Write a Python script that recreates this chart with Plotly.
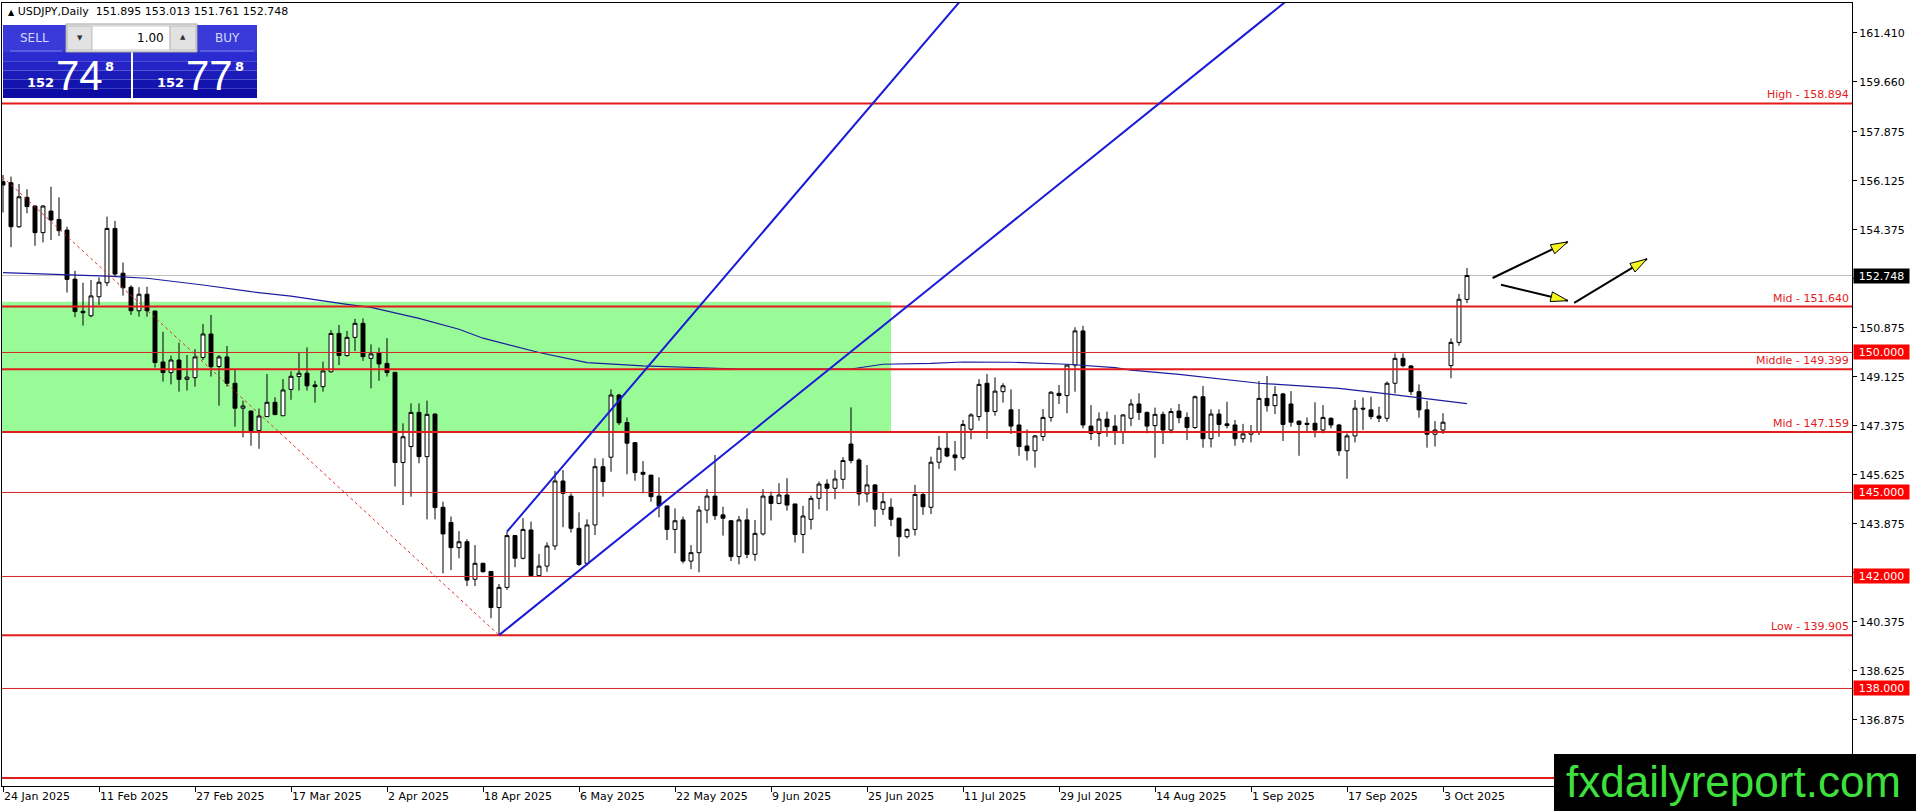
import plotly.graph_objects as go

# ---- daily candles, bar index 0 = 24 Jan 2025 (weekdays only) ----
OPEN = [156.10, 156.06, 154.49, 155.54, 155.23, 154.28, 155.05, 154.75, 154.37, 152.62, 151.47, 151.31,
        151.99, 152.49, 154.43, 152.83, 152.33, 151.49, 152.08, 151.48, 149.66, 149.28, 149.73, 149.04,
        149.10, 149.82, 150.66, 149.50, 149.84, 148.90, 148.01, 147.91, 147.21, 147.71, 148.22, 147.74,
        148.68, 149.14, 149.26, 148.84, 148.78, 149.31, 150.68, 149.89, 150.54, 151.04, 149.79, 149.97,
        149.61, 149.29, 146.07, 146.64, 147.86, 146.28, 147.80, 144.47, 143.93, 143.03, 143.24, 141.90,
        142.47, 142.18, 140.89, 141.61, 143.46, 142.65, 143.66, 142.03, 142.37, 143.09, 145.41, 144.87,
        143.72, 142.47, 143.84, 145.92, 146.26, 148.48, 147.50, 146.78, 145.72, 145.62, 144.87, 144.52,
        143.68, 144.02, 142.55, 142.85, 144.37, 144.87, 144.20, 143.99, 142.71, 144.02, 142.79, 143.52,
        144.87, 144.61, 144.91, 144.59, 143.50, 144.04, 144.79, 145.30, 145.15, 145.47, 146.73, 146.16,
        144.95, 145.27, 144.40, 144.47, 144.08, 143.42, 143.68, 144.93, 144.47, 146.08, 146.58, 146.34,
        146.24, 147.26, 147.71, 148.90, 147.89, 148.60, 147.95, 147.41, 146.66, 146.49, 147.00, 147.68,
        148.54, 148.46, 149.55, 150.77, 147.37, 147.11, 147.62, 147.37, 147.15, 147.65, 148.16, 147.86,
        147.39, 147.79, 147.23, 147.91, 147.68, 147.32, 148.42, 146.92, 147.80, 147.45, 147.41, 146.92,
        147.08, 147.17, 148.36, 148.10, 148.52, 148.16, 147.55, 147.47, 147.47, 147.23, 147.65, 147.41,
        146.49, 147.02, 148.01, 147.95, 147.73, 147.65, 148.90, 149.79, 149.52, 148.60, 147.95, 147.08,
        147.23, 149.53, 150.36, 151.895]
HIGH = [156.34, 156.28, 156.02, 155.83, 155.25, 155.26, 155.92, 155.54, 154.49, 152.92, 152.49, 152.59,
        152.68, 154.85, 154.70, 153.21, 152.40, 152.33, 152.35, 151.49, 150.74, 149.89, 150.35, 149.91,
        150.12, 151.02, 151.34, 149.91, 150.23, 149.40, 148.28, 147.91, 148.00, 149.23, 148.40, 149.05,
        149.33, 149.99, 150.18, 148.99, 149.67, 150.80, 150.98, 150.77, 151.20, 151.22, 150.29, 150.17,
        150.51, 149.29, 147.47, 148.18, 148.18, 148.28, 147.83, 144.67, 144.14, 143.62, 143.33, 143.12,
        142.49, 142.18, 141.73, 143.60, 143.48, 144.08, 143.96, 142.80, 143.22, 145.77, 145.80, 144.97,
        144.29, 144.04, 146.22, 146.22, 148.68, 148.52, 147.68, 146.78, 146.12, 145.62, 145.54, 144.52,
        144.43, 144.14, 143.12, 144.52, 145.12, 146.34, 144.49, 144.02, 144.16, 144.43, 144.02, 145.12,
        145.03, 145.33, 145.51, 144.59, 144.52, 144.89, 145.39, 145.47, 145.80, 146.26, 148.04, 146.22,
        145.98, 145.30, 144.99, 144.79, 144.11, 143.72, 145.27, 144.99, 146.28, 147.02, 147.15, 146.84,
        147.59, 147.83, 149.05, 149.23, 149.11, 148.90, 148.68, 147.98, 147.25, 147.05, 147.98, 148.62,
        148.84, 149.55, 150.90, 150.95, 148.12, 147.86, 147.89, 147.77, 147.79, 148.33, 148.54, 147.89,
        148.03, 147.89, 148.01, 148.16, 147.86, 148.46, 148.80, 147.97, 147.97, 148.24, 147.59, 147.45,
        147.41, 148.98, 149.16, 148.80, 148.56, 148.62, 147.56, 147.68, 148.22, 148.12, 147.68, 147.45,
        147.11, 148.30, 148.39, 148.42, 148.06, 148.96, 149.97, 149.97, 149.55, 148.86, 148.27, 147.55,
        147.83, 150.50, 152.09, 153.013]
LOW = [155.00, 153.76, 154.45, 154.97, 153.81, 153.93, 154.02, 154.16, 152.14, 151.26, 150.96, 151.26,
       151.70, 152.37, 152.73, 152.03, 151.34, 151.28, 151.28, 149.46, 148.96, 148.86, 148.60, 148.64,
       148.78, 149.73, 149.14, 148.10, 148.78, 147.35, 146.97, 146.67, 146.56, 147.71, 147.78, 147.74,
       148.31, 148.64, 148.64, 148.21, 148.60, 149.28, 149.55, 149.85, 150.05, 149.70, 148.72, 148.99,
       149.14, 145.21, 144.55, 144.85, 146.04, 144.04, 144.04, 142.11, 142.23, 142.65, 141.66, 141.66,
       142.14, 140.51, 139.905, 141.52, 142.33, 142.61, 142.00, 141.98, 142.17, 142.95, 143.76, 143.57,
       142.37, 142.40, 143.48, 144.85, 145.74, 147.41, 145.65, 145.42, 144.97, 144.67, 144.11, 143.30,
       142.83, 142.47, 142.26, 142.15, 143.90, 144.02, 143.46, 142.55, 142.43, 142.65, 142.56, 143.46,
       144.00, 144.58, 144.35, 143.21, 142.83, 143.68, 144.40, 144.35, 144.76, 145.13, 146.04, 144.53,
       144.65, 143.78, 144.20, 143.80, 142.71, 143.36, 143.46, 144.20, 144.23, 145.84, 146.26, 145.78,
       146.16, 146.90, 147.56, 146.91, 147.74, 148.21, 147.09, 146.31, 146.14, 145.89, 146.84, 147.53,
       148.16, 147.83, 148.60, 147.29, 146.87, 146.64, 146.99, 146.70, 146.73, 147.37, 147.59, 147.11,
       146.24, 146.73, 147.11, 147.47, 146.87, 147.27, 146.60, 146.61, 146.99, 147.29, 146.67, 146.78,
       146.79, 147.05, 147.89, 147.80, 146.84, 147.35, 146.31, 147.14, 146.97, 147.11, 147.29, 146.31,
       145.49, 146.79, 147.23, 147.61, 147.51, 147.53, 148.54, 149.47, 148.48, 147.67, 146.60, 146.64,
       147.09, 149.08, 150.24, 151.761]
CLOSE = [155.98, 154.49, 155.56, 155.21, 154.28, 155.23, 154.73, 154.35, 152.61, 151.46, 151.42, 152.02,
         152.51, 154.43, 152.80, 152.31, 151.49, 152.08, 151.49, 149.64, 149.28, 149.73, 149.04, 149.12,
         149.84, 150.66, 149.49, 149.84, 148.90, 148.01, 148.09, 147.21, 147.73, 148.22, 147.78, 148.66,
         149.15, 149.26, 148.81, 148.78, 149.34, 150.68, 149.89, 150.54, 151.04, 149.85, 149.95, 149.59,
         149.28, 146.07, 146.99, 147.86, 146.28, 147.79, 144.46, 143.52, 143.03, 143.24, 141.87, 142.47,
         142.17, 140.89, 141.61, 143.46, 142.65, 143.68, 142.03, 142.37, 143.09, 145.41, 144.97, 143.72,
         142.43, 143.84, 145.92, 145.39, 148.48, 147.49, 146.76, 145.71, 145.65, 144.85, 144.52, 143.68,
         143.99, 142.55, 142.85, 144.37, 144.87, 144.17, 144.08, 142.71, 144.02, 142.79, 143.54, 144.87,
         144.61, 144.91, 144.55, 143.50, 144.16, 144.79, 145.30, 145.15, 145.48, 146.14, 146.14, 144.95,
         145.27, 144.40, 144.67, 144.04, 143.42, 143.68, 144.93, 144.49, 146.08, 146.58, 146.30, 146.24,
         147.43, 147.77, 148.86, 147.89, 148.62, 148.81, 147.37, 146.64, 146.49, 147.02, 147.68, 148.58,
         148.46, 149.55, 150.77, 147.41, 147.11, 147.62, 147.35, 147.15, 147.77, 148.16, 147.86, 147.37,
         147.79, 147.23, 147.89, 147.67, 147.32, 148.42, 146.92, 147.80, 147.43, 147.39, 146.92, 147.09,
         147.17, 148.36, 148.10, 148.50, 147.43, 147.51, 147.43, 147.43, 147.23, 147.68, 147.41, 146.49,
         147.02, 148.01, 147.98, 147.71, 147.65, 148.90, 149.79, 149.53, 148.60, 147.95, 147.08, 147.23,
         147.51, 150.36, 151.90, 152.748]

# moving average at a few bars
MA_X = [0, 8, 13, 18, 25, 31, 36, 43, 46, 52, 57, 60, 65, 67, 73, 80, 92, 106, 110, 116, 120, 126,
        133, 139, 141, 147, 157, 167, 173, 178, 183]
MA_Y = [152.85, 152.77, 152.73, 152.65, 152.41, 152.17, 152.01, 151.72, 151.61, 151.22, 150.83, 150.51,
        150.15, 150.00, 149.64, 149.52, 149.41, 149.41, 149.58, 149.61, 149.66, 149.65, 149.58, 149.46,
        149.37, 149.22, 148.90, 148.72, 148.52, 148.34, 148.17]

DATE_TICKS = [0, 12, 24, 36, 48, 60, 72, 84, 96, 108, 120, 132, 144, 156, 168, 180]
DATE_LABELS = ["24 Jan 2025", "11 Feb 2025", "27 Feb 2025", "17 Mar 2025", "2 Apr 2025", "18 Apr 2025",
               "6 May 2025", "22 May 2025", "9 Jun 2025", "25 Jun 2025", "11 Jul 2025", "29 Jul 2025",
               "14 Aug 2025", "1 Sep 2025", "17 Sep 2025", "3 Oct 2025"]
PRICE_TICKS = [136.875, 138.625, 140.375, 142.125, 143.875, 145.625, 147.375, 149.125, 150.875,
               152.625, 154.375, 156.125, 157.875, 159.660, 161.410]

LEVELS = [158.894, 151.640, 149.399, 147.159, 139.905, 134.80]
LEVEL_NAMES = ["High", "Mid", "Middle", "Mid", "Low", ""]
ROUND_LEVELS = [150.0, 145.0, 142.0, 138.0]
LAST_PRICE = 152.748
TITLE_OHLC = [151.895, 153.013, 151.761, 152.748]

ZONE = [-20, 111, 147.159, 151.81]
DASHED = [(-10, 158.894), (62, 139.905)]
CHANNEL_A = [(63, 143.60), (80.25, 149.37)]
CHANNEL_B = [(62, 139.905), (114, 151.87)]
ARROWS = [((186.2, 152.66), (195.6, 153.95)),
          ((187.25, 152.42), (195.6, 151.85)),
          ((196.4, 151.77), (205.5, 153.34))]

# ---- geometry ----
W, H = 1916, 811
ML, MR, MT, MB = 2, 64, 3, 25
PW, PH = W - ML - MR, H - MT - MB
X_RANGE = [-0.125, 231.125]
Y_RANGE = [134.517, 162.481]
FONT = "DejaVu Sans"
RED = "#e31b1b"


def to_px(i, p):
    x = ML + (i - X_RANGE[0]) / (X_RANGE[1] - X_RANGE[0]) * PW
    y = MT + (Y_RANGE[1] - p) / (Y_RANGE[1] - Y_RANGE[0]) * PH
    return x, y


def to_data(x, y):
    i = X_RANGE[0] + (x - ML) / PW * (X_RANGE[1] - X_RANGE[0])
    p = Y_RANGE[1] - (y - MT) / PH * (Y_RANGE[1] - Y_RANGE[0])
    return i, p


def pxx(x):
    return (x - ML) / PW


def pxy(y):
    return 1 - (y - MT) / PH


def ray(pts, x_far=300):
    (x0, y0), (x1, y1) = pts
    k = (y1 - y0) / (x1 - x0)
    return x0, y0, x_far, y0 + (x_far - x0) * k


X = list(range(len(OPEN)))

fig = go.Figure()
fig.add_trace(go.Candlestick(
    x=X, open=OPEN, high=HIGH, low=LOW, close=CLOSE,
    increasing=dict(line=dict(color="black", width=1), fillcolor="white"),
    decreasing=dict(line=dict(color="black", width=1), fillcolor="black"),
    whiskerwidth=0, hoverinfo="skip", showlegend=False))
fig.add_trace(go.Scatter(x=MA_X, y=MA_Y, mode="lines", line=dict(color="#1c1ca0", width=1.2),
                         hoverinfo="skip", showlegend=False))

shapes = []
# green zone in the background
shapes.append(dict(type="rect", xref="x", yref="y", x0=ZONE[0], x1=ZONE[1], y0=ZONE[2], y1=ZONE[3],
                   fillcolor="#98fb98", line=dict(width=0), layer="below"))
shapes.append(dict(type="line", xref="paper", yref="y", x0=0, x1=1, y0=LAST_PRICE, y1=LAST_PRICE,
                   line=dict(color="#c0c0c0", width=1), layer="below"))
for lv in LEVELS:
    shapes.append(dict(type="line", xref="paper", yref="y", x0=0, x1=1, y0=lv, y1=lv,
                       line=dict(color=RED, width=2), layer="above"))
for lv in ROUND_LEVELS:
    shapes.append(dict(type="line", xref="paper", yref="y", x0=0, x1=1, y0=lv, y1=lv,
                       line=dict(color="#d42424", width=1), layer="above"))

(dx0, dy0), (dx1, dy1) = DASHED
shapes.append(dict(type="line", xref="x", yref="y", x0=dx0, y0=dy0, x1=dx1, y1=dy1,
                   line=dict(color="#e03030", width=1, dash="3px,3px"), layer="above"))
for ch in (CHANNEL_A, CHANNEL_B):
    x0, y0, x1, y1 = ray(ch)
    shapes.append(dict(type="line", xref="x", yref="y", x0=x0, y0=y0, x1=x1, y1=y1,
                       line=dict(color="#1a1ad8", width=2), layer="above"))

# arrows: black shaft, yellow head
for (s, e) in ARROWS:
    shapes.append(dict(type="line", xref="x", yref="y", x0=s[0], y0=s[1], x1=e[0], y1=e[1],
                       line=dict(color="black", width=2), layer="above"))
    sx, sy = to_px(*s)
    ex, ey = to_px(*e)
    L = ((ex - sx) ** 2 + (ey - sy) ** 2) ** 0.5
    ux, uy = (ex - sx) / L, (ey - sy) / L
    bx, by = ex - ux * 17, ey - uy * 17
    corners = [(ex, ey), (bx - uy * 5, by + ux * 5), (bx + uy * 5, by - ux * 5)]
    pts = [to_data(cx, cy) for cx, cy in corners]
    path = "M{},{} L{},{} L{},{} Z".format(pts[0][0], pts[0][1], pts[1][0], pts[1][1], pts[2][0], pts[2][1])
    shapes.append(dict(type="path", xref="x", yref="y", path=path, fillcolor="#f4f41e",
                       line=dict(color="black", width=1), layer="above"))


def prect(x0, y0, x1, y1, fill, line_color=None):
    shapes.append(dict(type="rect", xref="paper", yref="paper", x0=pxx(x0), x1=pxx(x1), y0=pxy(y1), y1=pxy(y0),
                       fillcolor=fill, layer="above",
                       line=dict(color=line_color, width=1) if line_color else dict(width=0)))


# one-click trading panel
for bx0, bx1 in ((3, 131), (133, 257)):
    bands = ["#2b2bd2", "#2323c6", "#1b1bba", "#1313ae", "#0c0ca4"]
    for k, col in enumerate(bands):
        prect(bx0, 52 + k * 9.2, bx1, 52 + (k + 1) * 9.2, col)
prect(3, 25, 66, 52, "#3a3ad8")
prect(197, 25, 257, 52, "#3a3ad8")
prect(66, 24, 197, 52, "#f0f0f0", "#a0a0a0")
prect(67, 26, 92, 50, "#e2e2e2", "#b8b8b8")
prect(92, 26, 170, 50, "white", "#c8c8c8")
prect(170, 26, 196, 50, "#e2e2e2", "#b8b8b8")
shapes.append(dict(type="line", xref="paper", yref="paper", x0=pxx(10), x1=pxx(62), y0=pxy(51), y1=pxy(51),
                   line=dict(color="#7c7ce8", width=1), layer="above"))
shapes.append(dict(type="line", xref="paper", yref="paper", x0=pxx(200), x1=pxx(254), y0=pxy(51), y1=pxy(51),
                   line=dict(color="#7c7ce8", width=1), layer="above"))

# watermark
prect(1554, 754, 1930, 820, "black")

annotations = []


def ptext(x, y, text, size, color, family=FONT, xanchor="center"):
    annotations.append(dict(xref="paper", yref="paper", x=pxx(x), y=pxy(y), text=text, showarrow=False,
                            xanchor=xanchor, yanchor="middle", font=dict(family=family, size=size, color=color)))


title = "<span style='font-size:8px'>▲</span> USDJPY,Daily  " + " ".join("%.3f" % v for v in TITLE_OHLC)
ptext(6, 11, title, 11, "black", xanchor="left")
ptext(34, 38, "SELL", 12, "#d4d8ff")
ptext(227, 38, "BUY", 12, "#d4d8ff")
ptext(166, 38, "1.00", 12, "black", xanchor="right")
ptext(80, 38, "▼", 7, "#303030")
ptext(183, 37, "▲", 7, "#303030")
big = "Liberation Sans Narrow, Liberation Sans, sans-serif"
for cx, big_digits in ((0, "74"), (130, "77")):
    ptext(40 + cx, 82, "<b>152</b>", 13, "white")
    ptext(79 + cx, 75, big_digits, 42, "white", family=big)
    ptext(109 + cx, 66, "<b>8</b>", 13, "white")

ptext(1733, 781, "fxdailyreport.com", 44, "#3ee03e", family="Liberation Sans")

for lv, name in zip(LEVELS, LEVEL_NAMES):
    if name:
        annotations.append(dict(xref="paper", yref="y", x=1, y=lv, xanchor="right", yanchor="bottom",
                                xshift=-1, yshift=0, text="%s - %.3f" % (name, lv), showarrow=False,
                                font=dict(family=FONT, size=11, color=RED)))
for lv, bg in [(v, "#ff0000") for v in ROUND_LEVELS] + [(LAST_PRICE, "black")]:
    annotations.append(dict(xref="paper", yref="y", x=1, y=lv, xanchor="left", yanchor="middle",
                            xshift=1, text="%.3f" % lv, showarrow=False, bgcolor=bg, borderpad=1,
                            width=53, height=12, font=dict(family=FONT, size=11, color="white")))

fig.update_layout(
    width=W, height=H, margin=dict(l=ML, r=MR, t=MT, b=MB),
    paper_bgcolor="white", plot_bgcolor="white", showlegend=False,
    shapes=shapes, annotations=annotations, hovermode=False,
    font=dict(family=FONT, size=11, color="black"),
)
fig.update_xaxes(range=X_RANGE, rangeslider_visible=False, showgrid=False, zeroline=False,
                 showline=True, mirror=True, linecolor="black", linewidth=1,
                 tickvals=DATE_TICKS, ticktext=DATE_LABELS, ticks="outside", ticklen=5,
                 tickcolor="black", ticklabelposition="outside right",
                 tickfont=dict(family=FONT, size=11, color="black"))
fig.update_yaxes(range=Y_RANGE, side="right", showgrid=False, zeroline=False,
                 showline=True, mirror=True, linecolor="black", linewidth=1,
                 tickvals=PRICE_TICKS, ticktext=["%.3f" % v for v in PRICE_TICKS],
                 ticks="outside", ticklen=4, tickcolor="black",
                 tickfont=dict(family=FONT, size=11, color="black"))

fig.write_html("out.html", config={"displayModeBar": False},
               post_script="document.body.style.margin='0';document.body.style.overflow='hidden';")
